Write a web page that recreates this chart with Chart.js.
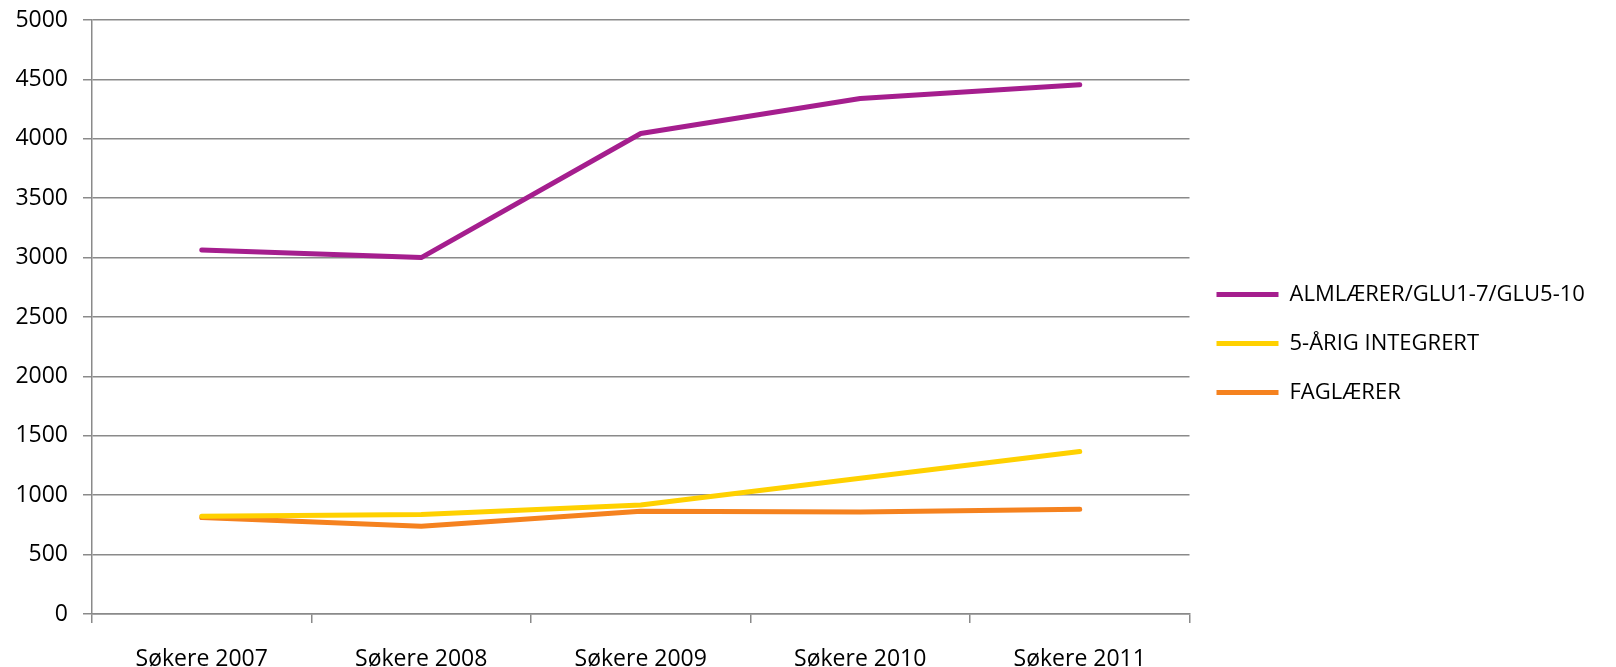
<!DOCTYPE html>
<html>
<head>
<meta charset="utf-8">
<script src="https://cdn.jsdelivr.net/npm/chart.js@4.4.1/dist/chart.umd.min.js"></script>
<style>
    body { margin: 0; background: #fff; }
    #wrap { width: 1616px; height: 667px; }
</style>
</head>
<body>
<div id="wrap"><canvas id="chart"></canvas></div>
<script>
// Søkere per år
const categories = ['Søkere 2007', 'Søkere 2008', 'Søkere 2009', 'Søkere 2010', 'Søkere 2011'];
const seriesNames = ['ALMLÆRER/GLU1-7/GLU5-10', '5-ÅRIG INTEGRERT', 'FAGLÆRER'];
const almlaerer = [3065, 3000, 4045, 4340, 4455];
const integrert = [823, 838, 918, 1142, 1368];
const faglaerer = [812, 738, 865, 858, 882];
const yTicks = [0, 500, 1000, 1500, 2000, 2500, 3000, 3500, 4000, 4500, 5000];

const colors = ['#A51E8E', '#FFD100', '#F5821F'];
const gridColor = '#8a8a8a';

Chart.defaults.font.family = '"Open Sans", sans-serif';
Chart.defaults.font.size = 23;
Chart.defaults.color = '#000';

function makeDataset(label, data, color) {
    return {
        label: label,
        data: data,
        borderColor: color,
        backgroundColor: color,
        borderWidth: 5,
        borderCapStyle: 'round',
        borderJoinStyle: 'round',
        pointRadius: 0,
        tension: 0,
        fill: false
    };
}

function drawChart() {
    new Chart(document.getElementById('chart').getContext('2d'), {
        type: 'line',
        data: {
            labels: categories,
            datasets: [
                makeDataset(seriesNames[0], almlaerer, colors[0]),
                makeDataset(seriesNames[1], integrert, colors[1]),
                makeDataset(seriesNames[2], faglaerer, colors[2])
            ]
        },
        options: {
            responsive: true,
            maintainAspectRatio: false,
            animation: false,
            layout: {
                padding: { top: 20, right: 30, bottom: 0, left: 0 }
            },
            plugins: {
                legend: {
                    position: 'right',
                    labels: {
                        usePointStyle: true,
                        pointStyle: 'line',
                        pointStyleWidth: 62,
                        padding: 27,
                        font: { size: 22 },
                        color: '#000'
                    }
                },
                tooltip: { enabled: false }
            },
            scales: {
                x: {
                    offset: true,
                    grid: {
                        offset: true,
                        drawOnChartArea: false,
                        color: gridColor,
                        lineWidth: 1.5,
                        tickLength: 9
                    },
                    border: { color: gridColor, width: 1.5 },
                    ticks: { padding: 23, maxRotation: 0 },
                    afterFit: (scale) => { scale.height = 53; }
                },
                y: {
                    min: yTicks[0],
                    max: yTicks[yTicks.length - 1],
                    afterBuildTicks: (scale) => { scale.ticks = yTicks.map(v => ({ value: v })); },
                    grid: { color: gridColor, lineWidth: 1.5, tickLength: 9 },
                    border: { color: gridColor, width: 1.5 },
                    ticks: { padding: 15, callback: (value) => String(value) },
                    afterFit: (scale) => {
                        scale.width = 92;
                        scale.paddingTop = 0;
                        scale.paddingBottom = 0;
                    }
                }
            }
        }
    });
}

document.fonts.load('23px "Open Sans"').then(drawChart, drawChart);
</script>
</body>
</html>
